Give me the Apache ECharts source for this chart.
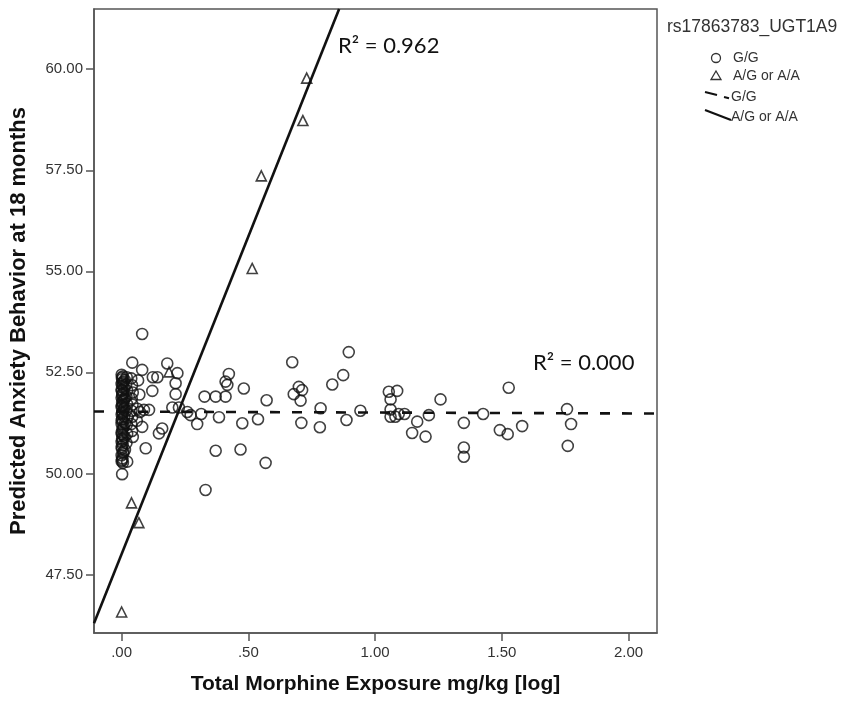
<!DOCTYPE html>
<html>
<head>
<meta charset="utf-8">
<script src="https://cdn.jsdelivr.net/npm/echarts@6/dist/echarts.min.js"></script>
<style>
  html, body { margin: 0; padding: 0; background: #fff; }
  #mychart { width: 845px; height: 701px; }
</style>
</head>
<body>
<div id="mychart"></div>
<script>
// tick labels
const xTicks = [0, 0.5, 1, 1.5, 2];
const yTicks = [47.5, 50, 52.5, 55, 57.5, 60];

// G/G points (circles) - x: morphine exposure [log], y: predicted anxiety
const ggPoints = [
  // dense column at .00
  [0.000,52.44],[0.005,52.40],[0.002,52.33],[0.008,52.27],[0.000,52.21],[0.004,52.16],
  [0.010,52.10],[0.001,52.04],[0.006,51.99],[0.003,51.93],[0.000,51.87],[0.009,51.82],
  [0.002,51.76],[0.005,51.70],[0.000,51.64],[0.007,51.58],[0.003,51.52],[0.000,51.46],
  [0.010,51.41],[0.002,51.35],[0.005,51.28],[0.000,51.22],[0.008,51.15],[0.003,51.08],
  [0.000,51.01],[0.006,50.94],[0.002,50.86],[0.000,50.78],[0.004,50.70],[0.001,50.61],
  [0.007,50.53],[0.000,50.45],[0.003,50.37],[0.000,50.30],[0.005,50.26],[0.002,49.98],
  [0.001,52.37],[0.004,52.24],[0.000,52.07],[0.003,51.96],[0.006,51.79],[0.001,51.67],
  [0.004,51.49],[0.000,51.31],[0.005,51.12],[0.001,50.97],[0.004,50.82],[0.000,50.66],
  [0.006,50.49],[0.002,50.33],[0.012,52.31],[0.013,51.86],[0.011,51.62],[0.014,51.25],
  [0.012,50.90],[0.013,50.58],
  [0.020,52.38],[0.018,52.20],[0.022,52.05],[0.019,51.90],[0.021,51.72],[0.018,51.55],
  [0.024,51.38],[0.020,51.20],[0.022,50.98],[0.019,50.75],[0.022,50.29],
  [0.042,52.74],[0.038,52.35],[0.041,52.18],[0.044,52.00],[0.040,51.85],[0.043,51.70],
  [0.039,51.55],[0.042,51.40],[0.038,51.22],[0.041,51.05],[0.044,50.90],
  [0.081,53.45],[0.081,52.56],[0.065,52.30],[0.070,51.95],[0.062,51.60],[0.072,51.52],
  [0.088,51.57],[0.108,51.57],[0.081,51.15],[0.095,50.62],[0.060,51.30],
  [0.123,52.38],[0.141,52.38],[0.121,52.04],[0.180,52.72],[0.220,52.48],[0.213,52.23],
  [0.213,51.96],[0.200,51.63],[0.226,51.63],[0.160,51.11],[0.147,50.99],
  [0.259,51.52],[0.272,51.44],[0.314,51.47],[0.298,51.22],[0.327,51.90],[0.371,51.90],
  [0.410,51.90],[0.423,52.46],[0.410,52.27],[0.417,52.19],[0.482,52.10],[0.384,51.39],
  [0.476,51.24],[0.538,51.34],[0.572,51.81],[0.371,50.56],[0.469,50.59],[0.568,50.26],
  [0.331,49.59],
  [0.673,52.75],[0.679,51.96],[0.699,52.14],[0.712,52.06],[0.706,51.80],[0.709,51.25],
  [0.785,51.61],[0.782,51.14],[0.831,52.20],[0.874,52.43],[0.896,53.00],[0.887,51.32],
  [0.942,51.55],
  [1.054,52.02],[1.087,52.04],[1.061,51.83],[1.061,51.58],[1.061,51.40],[1.080,51.40],
  [1.093,51.47],[1.116,51.47],[1.166,51.28],[1.146,51.00],[1.199,50.91],[1.212,51.44],
  [1.258,51.83],
  [1.350,51.25],[1.350,50.64],[1.350,50.41],[1.426,51.47],[1.492,51.07],[1.523,50.97],
  [1.527,52.12],[1.580,51.17],[1.757,51.59],[1.773,51.22],[1.760,50.68]
];

// A/G or A/A points (triangles)
const agPoints = [
  [0.000,46.57],[0.039,49.27],[0.068,48.78],[0.187,52.51],
  [0.515,55.07],[0.551,57.36],[0.715,58.73],[0.730,59.78]
];

// fit lines, end points read at the frame edges
const fitGG = [[-0.109,51.53],[2.112,51.48]];
const fitAG = [[-0.109,46.29],[0.858,61.49]];

const fmtX = v => (v < 1 ? v.toFixed(2).replace(/^0/, '') : v.toFixed(2));
const legendFont = '14px "Liberation Sans", Arial, sans-serif';

let option = {
  animation: false,
  backgroundColor: '#fff',
  textStyle: { fontFamily: 'Liberation Sans, Arial, sans-serif' },
  grid: {
    left: 93, right: 188, top: 9, bottom: 68,
    show: true,
    borderColor: '#555',
    borderWidth: 1.5
  },
  xAxis: {
    type: 'value',
    min: -0.109,
    max: 2.112,
    name: 'Total Morphine Exposure mg/kg [log]',
    nameLocation: 'middle',
    nameGap: 41,
    nameTextStyle: { fontSize: 21, fontWeight: 'bold', color: '#111' },
    axisLine: { onZero: false, lineStyle: { color: '#555', width: 1.5 } },
    axisTick: { customValues: xTicks, length: 8, lineStyle: { color: '#555', width: 1.5 } },
    axisLabel: { customValues: xTicks, formatter: fmtX, fontSize: 15, color: '#333', margin: 12 },
    splitLine: { show: false }
  },
  yAxis: {
    type: 'value',
    min: 46.05,
    max: 61.49,
    name: 'Predicted Anxiety Behavior at 18 months',
    nameLocation: 'middle',
    nameGap: 64,
    nameTextStyle: { fontSize: 22, fontWeight: 'bold', color: '#111' },
    axisLine: { onZero: false, lineStyle: { color: '#555', width: 1.5 } },
    axisTick: { customValues: yTicks, length: 8, lineStyle: { color: '#555', width: 1.5 } },
    axisLabel: { customValues: yTicks, formatter: v => v.toFixed(2), fontSize: 15, color: '#333', margin: 11 },
    splitLine: { show: false }
  },
  series: [
    {
      name: 'G/G',
      type: 'scatter',
      data: ggPoints,
      symbol: 'circle',
      symbolSize: 11,
      itemStyle: { color: 'rgba(0,0,0,0)', borderColor: '#111', borderWidth: 1.6 }
    },
    {
      name: 'A/G or A/A',
      type: 'scatter',
      data: agPoints,
      symbol: 'triangle',
      symbolSize: 10,
      itemStyle: { color: 'rgba(0,0,0,0)', borderColor: '#111', borderWidth: 1.6 }
    },
    {
      name: 'G/G fit',
      type: 'line',
      data: fitGG,
      symbol: 'none',
      lineStyle: { color: '#111', width: 2.6, type: [10, 12] }
    },
    {
      name: 'A/G or A/A fit',
      type: 'line',
      data: fitAG,
      symbol: 'none',
      lineStyle: { color: '#111', width: 2.6 }
    }
  ],
  graphic: [
    // R2 labels
    { type: 'text', left: 338, top: 35, style: { text: 'R² = 0.962', font: '22px Lato, "Noto Sans", sans-serif', fill: '#111' } },
    { type: 'text', left: 533, top: 352, style: { text: 'R² = 0.000', font: '22px Lato, "Noto Sans", sans-serif', fill: '#111' } },
    // legend
    { type: 'text', left: 667, top: 18, style: { text: 'rs17863783_UGT1A9', font: '17.5px "Liberation Sans", Arial, sans-serif', fill: '#333' } },
    { type: 'circle', shape: { cx: 716, cy: 58, r: 4.5 }, style: { fill: 'none', stroke: '#333', lineWidth: 1.3 } },
    { type: 'text', left: 733, top: 51, style: { text: 'G/G', font: legendFont, fill: '#333' } },
    { type: 'polygon', shape: { points: [[716, 71], [721, 79.5], [711, 79.5]] }, style: { fill: 'none', stroke: '#333', lineWidth: 1.3 } },
    { type: 'text', left: 733, top: 69, style: { text: 'A/G or A/A', font: legendFont, fill: '#333' } },
    { type: 'line', shape: { x1: 705, y1: 92, x2: 717, y2: 95 }, style: { stroke: '#111', lineWidth: 2.2 } },
    { type: 'line', shape: { x1: 724, y1: 97, x2: 729, y2: 98.2 }, style: { stroke: '#111', lineWidth: 2.2 } },
    { type: 'text', left: 731, top: 90, style: { text: 'G/G', font: legendFont, fill: '#333' } },
    { type: 'line', shape: { x1: 705, y1: 110, x2: 731, y2: 120 }, style: { stroke: '#111', lineWidth: 2.2 } },
    { type: 'text', left: 731, top: 110, style: { text: 'A/G or A/A', font: legendFont, fill: '#333' } }
  ]
};

let myChart = echarts.init(document.getElementById('mychart'));
myChart.setOption(option);
</script>
</body>
</html>
